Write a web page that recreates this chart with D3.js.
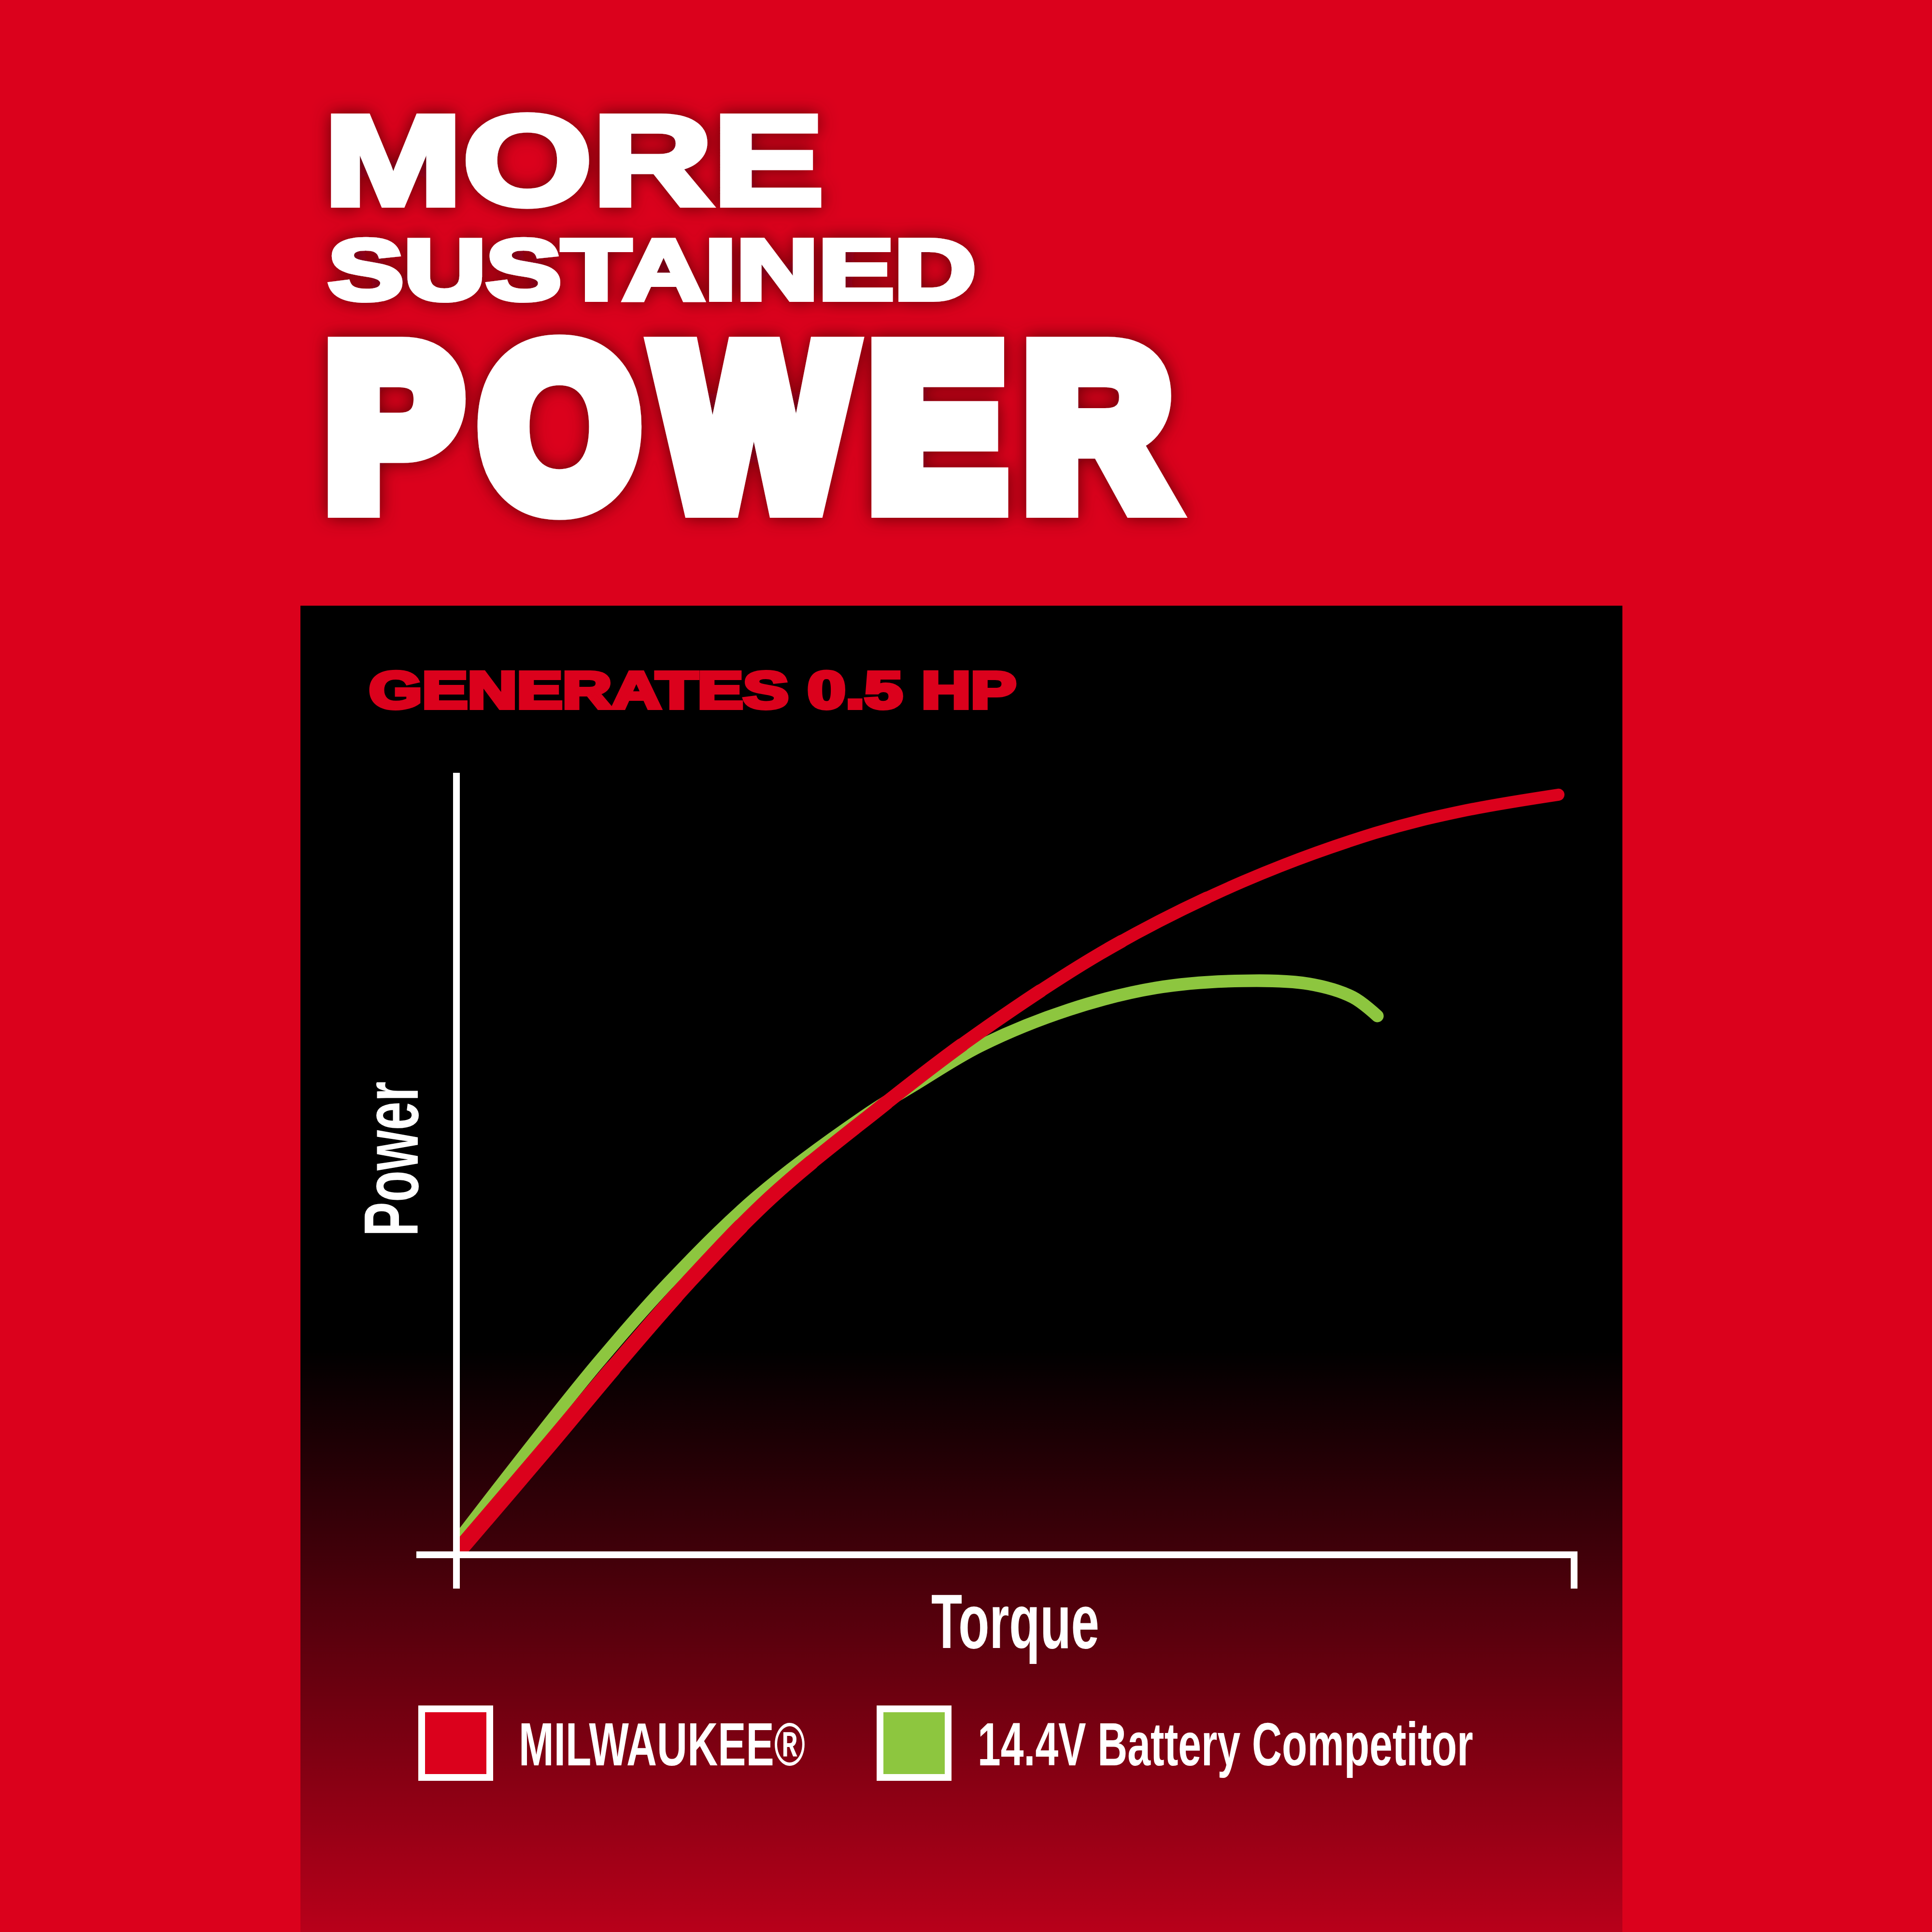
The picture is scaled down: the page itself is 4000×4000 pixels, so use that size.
<!DOCTYPE html>
<html>
<head>
<meta charset="utf-8">
<script src="https://cdn.jsdelivr.net/npm/d3@7"></script>
<style>
  html, body { margin: 0; padding: 0; background: #DB011C; }
  svg { display: block; }
</style>
</head>
<body>
<script>
// ---------------- DATA ----------------
const titleLines = ["MORE", "SUSTAINED", "POWER"];
const subtitle = "GENERATES 0.5 HP";
const xAxisLabel = "Torque";
const yAxisLabel = "Power";
const seriesNames = ["MILWAUKEE®", "14.4V Battery Competitor"];
const seriesColors = ["#DB011C", "#8DC63F"];

// Milwaukee curve (torque %, power %)
const milwaukeeTorque = [0.6, 8.3, 14.4, 20.7, 28.2, 37.4, 46.7, 58.7, 70.4, 82.2, 90.0, 98.6];
const milwaukeePower  = [1.2, 14.1, 24.5, 34.8, 45.8, 56.6, 66.7, 77.8, 86.1, 92.3, 95.1, 97.2];

// Competitor curve (torque %, power %)
const competitorTorque = [0.4, 6.8, 12.7, 19.0, 26.9, 36.7, 41.1, 46.9, 54.8, 62.6, 70.4, 76.3, 80.2, 82.4];
const competitorPower  = [2.3, 14.1, 24.6, 34.8, 45.8, 56.3, 60.2, 65.1, 69.7, 72.5, 73.4, 73.0, 71.3, 68.9];

// ---------------- DRAW ----------------
const W = 4000, H = 4000;
const svg = d3.select("body").append("svg")
  .attr("width", W).attr("height", H).attr("viewBox", `0 0 ${W} ${H}`);

const defs = svg.append("defs");
const grad = defs.append("linearGradient")
  .attr("id", "panelGrad").attr("gradientUnits", "userSpaceOnUse")
  .attr("x1", 0).attr("x2", 0).attr("y1", 1254).attr("y2", 4000);
grad.append("stop").attr("offset", 0).attr("stop-color", "#000000");
grad.append("stop").attr("offset", 0.56).attr("stop-color", "#000000");
grad.append("stop").attr("offset", 1).attr("stop-color", "rgb(184,0,26)");

const glow = defs.append("filter").attr("id", "glow")
  .attr("x", "-20%").attr("y", "-40%").attr("width", "140%").attr("height", "180%");
glow.append("feGaussianBlur").attr("in", "SourceAlpha").attr("stdDeviation", 18).attr("result", "blur");
glow.append("feFlood").attr("flood-color", "#4a000c").attr("flood-opacity", 0.85);
glow.append("feComposite").attr("in2", "blur").attr("operator", "in").attr("result", "shadow");
const gm = glow.append("feMerge");
gm.append("feMergeNode").attr("in", "shadow");
gm.append("feMergeNode").attr("in", "SourceGraphic");

// background
svg.append("rect").attr("width", W).attr("height", H).attr("fill", "#DB011C");

// title: one text element, one tspan per line (heavy condensed look via stroke)
const wide = "'Liberation Sans', Arial, sans-serif";
const narrow = "'Liberation Sans Narrow', 'Liberation Sans', Arial, sans-serif";
const titleLayout = [
  { x: 670, y: 424, size: 266, len: 1036, sw: 12, ls: 0, font: wide },
  { x: 679, y: 620, size: 178, len: 1342, sw: 10, ls: 0, font: wide },
  { x: 674, y: 1046, size: 469, len: 1790, sw: 52, ls: 44, font: narrow }
];
const titleText = svg.append("text").attr("filter", "url(#glow)")
  .attr("font-weight", "bold").attr("fill", "#fff").attr("stroke", "#fff")
  .attr("stroke-linejoin", "miter").attr("stroke-miterlimit", 3).attr("paint-order", "stroke");
titleText.selectAll("tspan").data(titleLines).join("tspan")
  .attr("x", (d, i) => titleLayout[i].x)
  .attr("y", (d, i) => titleLayout[i].y)
  .attr("font-family", (d, i) => titleLayout[i].font)
  .attr("font-size", (d, i) => titleLayout[i].size)
  .attr("letter-spacing", (d, i) => titleLayout[i].ls)
  .attr("stroke-width", (d, i) => titleLayout[i].sw)
  .attr("textLength", (d, i) => titleLayout[i].len)
  .attr("lengthAdjust", "spacingAndGlyphs")
  .text(d => d);

// chart panel
svg.append("rect").attr("x", 622).attr("y", 1254).attr("width", 3359 - 622).attr("height", H - 1254)
  .attr("fill", "url(#panelGrad)");

// subtitle
svg.append("text")
  .attr("x", 764).attr("y", 1466)
  .attr("font-size", 108).attr("textLength", 1340).attr("lengthAdjust", "spacingAndGlyphs")
  .attr("font-family", wide).attr("font-weight", "bold")
  .attr("fill", "#DB011C").attr("stroke", "#DB011C").attr("stroke-width", 8)
  .attr("stroke-linejoin", "miter").attr("stroke-miterlimit", 2)
  .text(subtitle);

// scales
const x = d3.scaleLinear().domain([0, 100]).range([945, 3259]);
const y = d3.scaleLinear().domain([0, 100]).range([3219, 1600]);

// lines
const line = d3.line().x(d => x(d[0])).y(d => y(d[1])).curve(d3.curveCatmullRom.alpha(0.5));
const compData = competitorTorque.map((t, i) => [t, competitorPower[i]]);
const milData = milwaukeeTorque.map((t, i) => [t, milwaukeePower[i]]);
svg.append("path").attr("d", line(compData))
  .attr("fill", "none").attr("stroke", seriesColors[1]).attr("stroke-width", 26).attr("stroke-linecap", "round");

// Milwaukee line tapers gently: slightly thicker near the origin
const redBase = svg.append("path").attr("d", line(milData))
  .attr("fill", "none").attr("stroke", seriesColors[0]).attr("stroke-width", 25).attr("stroke-linecap", "round");
const redLen = redBase.node().getTotalLength();
d3.range(1, 10).forEach(k => {
  svg.append("path").attr("d", line(milData))
    .attr("fill", "none").attr("stroke", seriesColors[0]).attr("stroke-width", 25 + k)
    .attr("stroke-linecap", "round")
    .attr("stroke-dasharray", `${redLen * (0.8 - k * 0.07)} ${redLen * 2}`);
});

// axes
const axisG = svg.append("g").attr("stroke", "#fff").attr("stroke-width", 14).attr("fill", "none");
axisG.append("line")
  .attr("x1", x(0)).attr("x2", x(0)).attr("y1", y(100)).attr("y2", y(0) + 70);
axisG.append("path")
  .attr("stroke-linejoin", "miter")
  .attr("d", `M${x(0) - 83},${y(0)}H${x(100)}V${y(0) + 70}`);

// axis labels
svg.append("text")
  .attr("transform", "translate(865,2560) rotate(-90)")
  .attr("font-size", 160).attr("textLength", 321).attr("lengthAdjust", "spacingAndGlyphs")
  .attr("font-family", narrow).attr("font-weight", "bold").attr("fill", "#fff")
  .text(yAxisLabel);
svg.append("text")
  .attr("x", 1928).attr("y", 3412)
  .attr("font-size", 160).attr("textLength", 348).attr("lengthAdjust", "spacingAndGlyphs")
  .attr("font-family", narrow).attr("font-weight", "bold").attr("fill", "#fff")
  .text(xAxisLabel);

// legend
const legendLayout = [
  { bx: 873, tx: 1074, len: 593 },
  { bx: 1822, tx: 2024, len: 1026 }
];
const lg = svg.append("g").selectAll("g").data(seriesNames).join("g");
lg.append("rect")
  .attr("x", (d, i) => legendLayout[i].bx).attr("y", 3538)
  .attr("width", 141).attr("height", 142)
  .attr("fill", (d, i) => seriesColors[i])
  .attr("stroke", "#fff").attr("stroke-width", 14);
lg.append("text")
  .attr("x", (d, i) => legendLayout[i].tx).attr("y", 3655)
  .attr("font-size", 126)
  .attr("textLength", (d, i) => legendLayout[i].len).attr("lengthAdjust", "spacingAndGlyphs")
  .attr("font-family", narrow).attr("font-weight", "bold").attr("fill", "#fff")
  .text(d => d);
</script>
</body>
</html>
